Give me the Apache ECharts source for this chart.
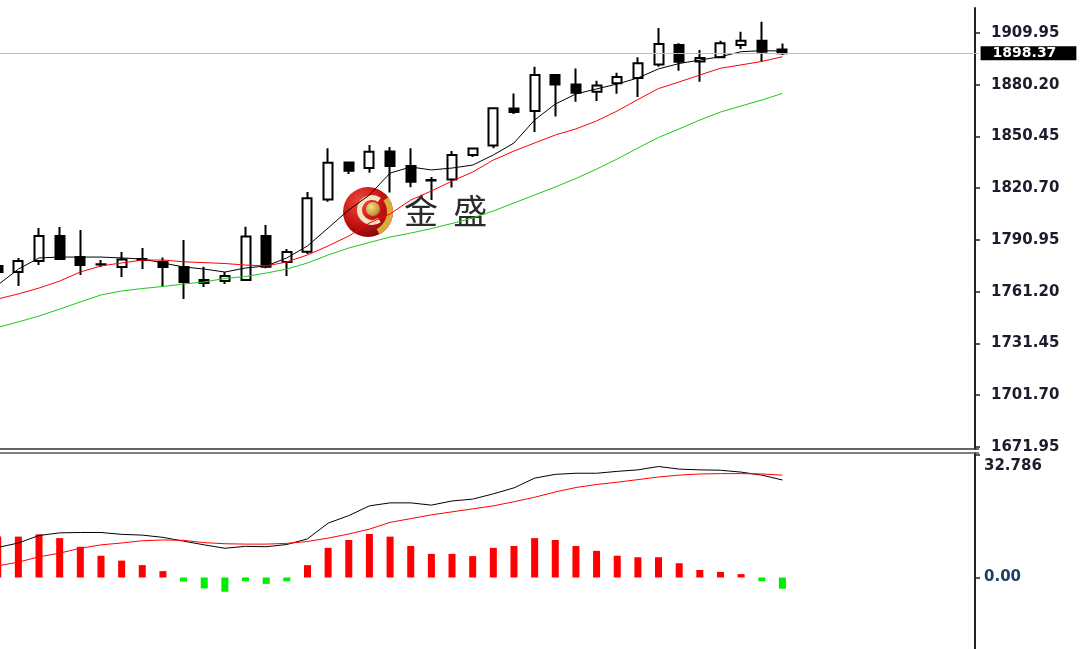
<!DOCTYPE html>
<html><head><meta charset="utf-8">
<script src="https://cdn.jsdelivr.net/npm/echarts@6/dist/echarts.min.js"></script>
<style>html,body{margin:0;padding:0;background:#fff;overflow:hidden}#c{width:1082px;height:649px}</style>
</head><body><div id="c"></div>
<script>
// ---- data ----
const categories = ['1','2','3','4','5','6','7','8','9','10','11','12','13','14','15','16','17','18','19','20','21','22','23','24','25','26','27','28','29','30','31','32','33','34','35','36','37','38','39','40','41','42','43','44','45','46','47','48'];

const opens  = [1775.97,1772.52,1778.84,1793.22,1781.14,1776.80,1775.39,1779.99,1778.27,1775.39,1767.92,1767.34,1767.92,1793.22,1778.27,1784.19,1814.21,1835.48,1832.32,1841.81,1833.47,1825.42,1825.71,1839.80,1845.26,1866.53,1865.10,1885.80,1880.34,1876.20,1881.03,1884.07,1891.84,1903.05,1893.56,1895.98,1903.05,1905.52,1900.46];
const closes = [1772.52,1778.84,1793.22,1779.99,1776.54,1777.00,1779.70,1779.42,1775.39,1766.77,1766.19,1770.22,1792.93,1775.56,1784.02,1814.90,1835.37,1830.77,1841.69,1833.47,1824.44,1825.13,1839.80,1843.53,1866.65,1864.52,1885.80,1880.34,1875.62,1879.76,1884.65,1892.53,1903.62,1893.45,1895.57,1904.03,1905.52,1899.20,1898.37];
const lows   = [1770.79,1764.46,1776.54,1779.42,1770.79,1775.39,1769.64,1774.24,1763.89,1756.99,1763.89,1765.61,1767.60,1774.64,1770.22,1782.87,1812.94,1828.87,1829.62,1818.23,1821.22,1813.92,1821.11,1838.65,1843.65,1863.37,1853.02,1861.93,1870.45,1870.85,1875.05,1873.15,1890.57,1888.27,1881.95,1895.57,1900.75,1893.45,1897.30];
const highs  = [1777.69,1780.57,1797.82,1798.39,1796.67,1779.42,1784.02,1786.32,1780.85,1790.92,1775.56,1772.52,1798.57,1799.54,1785.74,1818.52,1843.65,1835.60,1845.55,1844.40,1843.65,1827.14,1842.10,1843.70,1866.99,1875.16,1890.57,1886.09,1889.54,1882.52,1887.12,1895.98,1912.83,1904.03,1900.17,1905.52,1910.70,1916.45,1903.91];

const maFast = [1765.0,1774.2,1780.6,1781.1,1781.1,1781.1,1780.6,1780.0,1777.7,1775.4,1774.2,1772.5,1774.8,1776.0,1780.6,1787.5,1797.8,1808.2,1816.8,1829.4,1832.9,1831.2,1832.3,1834.0,1839.8,1846.7,1859.9,1869.1,1874.9,1877.8,1880.6,1884.1,1889.3,1892.4,1894.4,1896.3,1899.2,1899.8,1899.6];
const maMid  = [1757.0,1759.9,1763.3,1767.3,1772.5,1776.0,1777.7,1779.4,1779.4,1778.4,1777.9,1777.4,1776.5,1776.0,1778.3,1782.3,1787.5,1793.2,1800.7,1805.9,1813.9,1819.1,1824.8,1830.0,1836.9,1842.1,1846.7,1851.3,1854.8,1859.4,1865.1,1871.7,1878.0,1881.8,1885.8,1889.7,1891.6,1893.6,1896.3];
const maSlow = [1740.6,1743.8,1747.2,1751.2,1755.3,1759.3,1761.6,1763.0,1764.2,1765.6,1766.8,1768.8,1769.9,1771.9,1774.2,1777.7,1782.3,1786.3,1789.5,1792.6,1794.9,1797.5,1800.4,1803.6,1807.6,1812.2,1816.8,1821.4,1826.3,1831.7,1837.5,1843.8,1849.9,1854.8,1859.9,1864.5,1868.0,1871.4,1875.2];

const macdHist   = [10.9,10.9,11.5,10.5,8.2,5.8,4.5,3.3,1.7,-1.1,-2.9,-3.8,-1.0,-1.7,-1.0,3.3,7.9,10.0,11.6,10.9,8.4,6.3,6.3,5.7,7.9,8.4,10.5,10.0,8.4,7.1,5.8,5.4,5.4,3.8,2.0,1.5,0.9,-1.0,-3.0];
const macdLine   = [8.0,9.2,11.2,11.9,12.0,12.0,11.5,11.3,10.7,9.7,8.7,7.8,8.3,8.2,8.8,10.3,14.5,16.5,19.1,19.9,19.9,19.3,20.4,20.9,22.3,23.9,26.5,27.5,27.8,27.8,28.3,28.7,29.6,28.9,28.7,28.6,28.1,27.3,26.0];
const macdSignal = [3.1,4.1,5.5,6.5,7.8,8.7,9.2,9.8,10.0,9.9,9.3,9.0,8.9,8.9,9.1,9.6,10.5,11.6,12.9,14.7,15.7,16.7,17.5,18.3,19.1,20.2,21.4,22.8,24.0,24.8,25.4,26.1,26.8,27.3,27.6,27.7,27.7,27.6,27.3];

const priceTicks = [1671.95,1701.70,1731.45,1761.20,1790.95,1820.70,1850.45,1880.20,1909.95];
const macdTicks  = [0, 32.786];
const currentPrice = 1898.37;

// ---- chart ----
const candles = opens.map((o, i) => [o, closes[i], lows[i], highs[i]]);
const chart = echarts.init(document.getElementById('c'), null, {renderer: 'canvas'});
const axisFont = {fontFamily: 'DejaVu Sans', fontWeight: 'bold', fontSize: 15, color: '#1c1c2c'};

chart.setOption({
  animation: false,
  backgroundColor: '#ffffff',
  grid: [
    {left: -12.6, right: 103.4, top: 8, height: 441, outerBoundsMode: 'none', containLabel: false},
    {left: -12.6, right: 103.4, top: 453, height: 196, outerBoundsMode: 'none', containLabel: false}
  ],
  xAxis: [
    {type: 'category', gridIndex: 0, data: categories, boundaryGap: true,
     axisLine: {show: true, onZero: false, lineStyle: {color: '#333', width: 1.5}},
     axisTick: {show: false}, axisLabel: {show: false}, splitLine: {show: false}},
    {type: 'category', gridIndex: 1, data: categories, boundaryGap: true, position: 'top',
     axisLine: {show: true, onZero: false, lineStyle: {color: '#555', width: 1.5}},
     axisTick: {show: false}, axisLabel: {show: false}, splitLine: {show: false}}
  ],
  yAxis: [
    {type: 'value', gridIndex: 0, position: 'right', offset: -3.6,
     min: 1670.73, max: 1924.33,
     splitLine: {show: false},
     axisLine: {show: true, lineStyle: {color: '#222', width: 2}},
     axisTick: {show: true, length: 5, customValues: priceTicks, lineStyle: {color: '#222', width: 1.5}},
     axisLabel: Object.assign({customValues: priceTicks, margin: 16, formatter: v => v.toFixed(2)}, axisFont)},
    {type: 'value', gridIndex: 1, position: 'right', offset: -3.6,
     min: -19.07, max: 33.2,
     splitLine: {show: false},
     axisLine: {show: true, lineStyle: {color: '#222', width: 2}},
     axisTick: {show: true, length: 5, customValues: macdTicks, lineStyle: {color: '#222', width: 1.5}},
     axisLabel: {customValues: macdTicks, margin: 9,
       formatter: v => v === 0 ? '{z|0.00}' : '{t|' + v.toFixed(3) + '}',
       rich: {
         z: {color: '#1d3f66', fontFamily: 'DejaVu Sans', fontWeight: 'bold', fontSize: 15},
         t: Object.assign({padding: [24, 0, 0, 0], lineHeight: 14}, axisFont)
       }}}
  ],
  graphic: [
    {type: 'circle', z: 1, shape: {cx: 368, cy: 212, r: 25},
     style: {fill: new echarts.graphic.RadialGradient(0.35, 0.3, 0.8, [
       {offset: 0, color: '#f24a3a'}, {offset: 0.55, color: '#c41414'}, {offset: 1, color: '#7a0505'}])}},
    {type: 'sector', z: 1, shape: {cx: 372, cy: 210, r0: 10, r: 15, startAngle: Math.PI * 0.3, endAngle: Math.PI * 1.7, clockwise: true},
     style: {fill: '#f3e3c0'}},
    {type: 'sector', z: 1, shape: {cx: 368, cy: 212, r0: 19, r: 25, startAngle: -Math.PI * 0.2, endAngle: Math.PI * 0.35, clockwise: true},
     style: {fill: '#d9a93a'}},
    {type: 'circle', z: 1, shape: {cx: 373, cy: 209, r: 7},
     style: {fill: new echarts.graphic.RadialGradient(0.35, 0.35, 0.8, [
       {offset: 0, color: '#f8e08a'}, {offset: 1, color: '#a8801e'}])}},
    {type: 'text', z: 1, left: 404, top: 194,
     style: {text: '金  盛', font: '34px "Noto Sans CJK SC"', fill: '#2b2b2b'}}
  ],
  series: [
    {type: 'candlestick', name: 'price', xAxisIndex: 0, yAxisIndex: 0, data: candles, barWidth: 9.5,
     itemStyle: {color: '#ffffff', color0: '#000000', borderColor: '#000000', borderColor0: '#000000', borderWidth: 2},
     emphasis: {disabled: true},
     markLine: {silent: true, symbol: ['none', 'none'], animation: false,
       lineStyle: {color: '#bdbdbd', width: 1, type: 'solid'},
       label: {show: true, position: 'end', distance: 2, formatter: () => currentPrice.toFixed(2),
         backgroundColor: '#000', color: '#fff', fontFamily: 'DejaVu Sans', fontWeight: 'bold', fontSize: 14,
         lineHeight: 14, padding: [0, 20, 0, 12]},
       emphasis: {disabled: true},
       data: [{yAxis: currentPrice}]}},
    {type: 'line', name: 'MA fast', xAxisIndex: 0, yAxisIndex: 0, data: maFast, symbol: 'none', z: 3,
     lineStyle: {color: '#000000', width: 1}},
    {type: 'line', name: 'MA mid', xAxisIndex: 0, yAxisIndex: 0, data: maMid, symbol: 'none', z: 3,
     lineStyle: {color: '#ff0000', width: 1}},
    {type: 'line', name: 'MA slow', xAxisIndex: 0, yAxisIndex: 0, data: maSlow, symbol: 'none', z: 3,
     lineStyle: {color: '#1ec81e', width: 1}},
    {type: 'bar', name: 'hist', xAxisIndex: 1, yAxisIndex: 1, data: macdHist, barWidth: 7,
     itemStyle: {color: p => p.value >= 0 ? '#ff0000' : '#00ee00'}},
    {type: 'line', name: 'MACD', xAxisIndex: 1, yAxisIndex: 1, data: macdLine, symbol: 'none', z: 3,
     lineStyle: {color: '#000000', width: 1}},
    {type: 'line', name: 'Signal', xAxisIndex: 1, yAxisIndex: 1, data: macdSignal, symbol: 'none', z: 3,
     lineStyle: {color: '#ff0000', width: 1}}
  ]
});
</script>
</body></html>
